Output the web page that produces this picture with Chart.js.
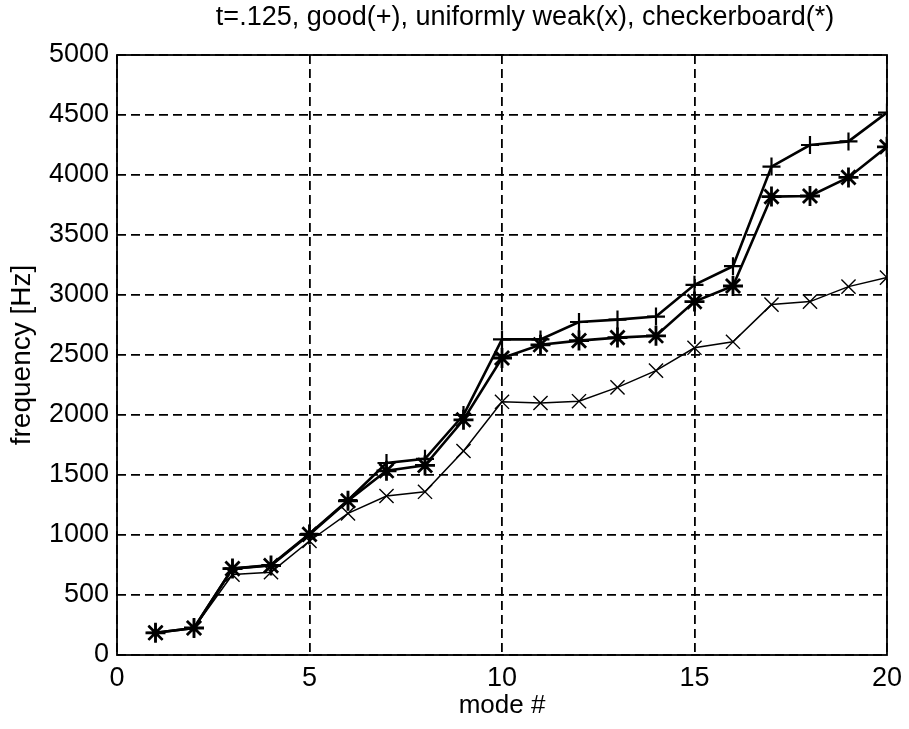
<!DOCTYPE html>
<html>
<head>
<meta charset="utf-8">
<script src="https://cdn.jsdelivr.net/npm/chart.js@4/dist/chart.umd.min.js"></script>
<style>
  html, body { margin: 0; padding: 0; background: #fff; }
  #wrap { width: 909px; height: 729px; }
</style>
</head>
<body>
<div id="wrap"><canvas id="c" width="909" height="729"></canvas></div>
<script>
const modes = [1, 2, 3, 4, 5, 6, 7, 8, 9, 10, 11, 12, 13, 14, 15, 16, 17, 18, 19, 20];
const good = [185, 225, 720, 750, 1010, 1290, 1600, 1635, 2000, 2630, 2630, 2775, 2795, 2820, 3085, 3240, 4070, 4250, 4280, 4520];
const weak = [185, 225, 670, 690, 950, 1180, 1325, 1360, 1700, 2110, 2100, 2115, 2230, 2370, 2560, 2610, 2920, 2945, 3070, 3145];
const checker = [185, 225, 720, 745, 1005, 1285, 1535, 1580, 1960, 2475, 2585, 2620, 2645, 2660, 2945, 3075, 3820, 3825, 3980, 4235];
const xTicks = [0, 5, 10, 15, 20];
const yTicks = [0, 500, 1000, 1500, 2000, 2500, 3000, 3500, 4000, 4500, 5000];
const titleText = 't=.125, good(+), uniformly weak(x), checkerboard(*)';

const toPts = arr => modes.map((m, i) => ({ x: m, y: arr[i] }));
const FONT = "'Liberation Sans', Arial, Helvetica, sans-serif";

const framePlugin = {
  id: 'frame',
  afterDatasetsDraw(chart) {
    const { ctx, chartArea: a } = chart;
    ctx.save();
    ctx.strokeStyle = '#000';
    ctx.lineWidth = 1.8;
    ctx.setLineDash([]);
    ctx.strokeRect(a.left, a.top, a.right - a.left, a.bottom - a.top);
    ctx.restore();
  },
  afterDraw(chart) {
    const { ctx } = chart;
    ctx.save();
    ctx.fillStyle = '#000';
    ctx.font = '27px ' + FONT;
    ctx.textAlign = 'center';
    ctx.textBaseline = 'middle';
    ctx.fillText(titleText, 525, 18);
    ctx.restore();
  }
};

new Chart(document.getElementById('c'), {
  type: 'line',
  data: {
    datasets: [
      { label: 'good', data: toPts(good), borderColor: '#000', backgroundColor: '#000',
        borderWidth: 2.6, pointStyle: 'cross', pointRadius: 9, pointBorderWidth: 2.2, pointBorderColor: '#000', fill: false, tension: 0 },
      { label: 'uniformly weak', data: toPts(weak), borderColor: '#000', backgroundColor: '#000',
        borderWidth: 1.5, pointStyle: 'crossRot', pointRadius: 10, pointBorderWidth: 1.4, pointBorderColor: '#000', fill: false, tension: 0 },
      { label: 'checkerboard', data: toPts(checker), borderColor: '#000', backgroundColor: '#000',
        borderWidth: 2.6, pointStyle: 'star', pointRadius: 10, pointBorderWidth: 2.8, pointBorderColor: '#000', fill: false, tension: 0 }
    ]
  },
  options: {
    responsive: false,
    animation: false,
    events: [],
    layout: { padding: { left: 0, right: 22, top: 55, bottom: 0 } },
    plugins: {
      legend: { display: false },
      tooltip: { enabled: false },
      title: { display: false }
    },
    scales: {
      x: {
        type: 'linear', min: 0, max: 20,
        afterBuildTicks(scale) { scale.ticks = xTicks.map(v => ({ value: v })); },
        afterFit(scale) { scale.height = 74; },
        ticks: { color: '#000', font: { family: FONT, size: 27 }, padding: 7, maxRotation: 0,
                 callback: v => String(v) },
        grid: { color: '#000', lineWidth: 1.8, drawTicks: false },
        border: { display: false, dash: [9, 5] },
        title: { display: true, text: 'mode #', color: '#000', font: { family: FONT, size: 26 }, padding: { top: 0, bottom: 8 } }
      },
      y: {
        type: 'linear', min: 0, max: 5000,
        afterBuildTicks(scale) { scale.ticks = yTicks.map(v => ({ value: v })); },
        afterFit(scale) { scale.width = 117; },
        ticks: { color: '#000', font: { family: FONT, size: 27 }, padding: 8,
                 callback: v => String(v) },
        grid: { color: '#000', lineWidth: 1.8, drawTicks: false },
        border: { display: false, dash: [9, 5] },
        title: { display: true, text: 'frequency [Hz]', color: '#000', font: { family: FONT, size: 28 }, padding: { top: 5, bottom: 0 } }
      }
    }
  },
  plugins: [framePlugin]
});
</script>
</body>
</html>
